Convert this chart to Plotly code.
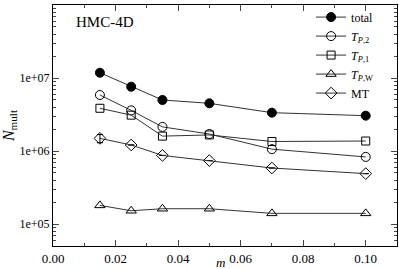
import plotly.graph_objects as go

m = [0.015, 0.025, 0.035, 0.05, 0.07, 0.10]
total = [1.18e7, 7.6e6, 5.0e6, 4.5e6, 3.35e6, 3.05e6]
tp2 = [5.85e6, 3.6e6, 2.14e6, 1.71e6, 1.06e6, 8.3e5]
tp1 = [3.85e6, 3.1e6, 1.6e6, 1.66e6, 1.35e6, 1.37e6]
tpw = [1.8e5, 1.52e5, 1.62e5, 1.62e5, 1.4e5, 1.4e5]
mt = [1.49e6, 1.21e6, 8.7e5, 7.4e5, 5.85e5, 4.9e5]
mt_err = [1.9e5, 0, 0, 0, 0, 0]

ytickvals = [1e5, 1e6, 1e7, 1e8]
yticktext = ["1e+05", "1e+06", "1e+07", "1e+08"]
xtickvals = [0.0, 0.02, 0.04, 0.06, 0.08, 0.10]
xticktext = ["0.00", "0.02", "0.04", "0.06", "0.08", "0.10"]

font = "Liberation Serif"
lc = "#333333"
XR = [0, 0.11]
YR = [4.699, 8]

fig = go.Figure()
series = [
    ("total", total, "circle", 9, None),
    ("<i>T</i><sub><i>P</i>,2</sub>", tp2, "circle-open", 9, None),
    ("<i>T</i><sub><i>P</i>,1</sub>", tp1, "square-open", 8, None),
    ("<i>T</i><sub><i>P</i>,W</sub>", tpw, "triangle-up-open", 9, None),
    ("MT", mt, "diamond-open", 9, mt_err),
]
for name, ys, sym, sz, err in series:
    fig.add_trace(go.Scatter(
        x=m, y=ys, name=name, mode="lines+markers",
        line=dict(color=lc, width=1),
        marker=dict(symbol=sym, size=sz, color="black",
                    line=dict(color="black", width=1)),
        error_y=dict(type="data", array=err, color="black", thickness=1, width=3,
                     visible=err is not None),
    ))

# invisible trace on minor-tick axes so they render
fig.add_trace(go.Scatter(x=[None], y=[None], xaxis="x2", yaxis="y2",
                         showlegend=False, hoverinfo="skip"))

fig.add_annotation(x=0.06, y=0.97, xref="paper", yref="paper", text="HMC-4D",
                   showarrow=False, xanchor="left", yanchor="top",
                   font=dict(family=font, size=15, color="black"))
fig.add_annotation(x=0.487, y=0, xref="paper", yref="paper", text="<i>m</i>",
                   showarrow=False, xanchor="center", yanchor="top", yshift=-7,
                   font=dict(family=font, size=13, color="black"))

fig.update_layout(
    width=399, height=269,
    margin=dict(l=53, r=2, t=5, b=23),
    paper_bgcolor="white", plot_bgcolor="white",
    font=dict(family=font, size=12, color="black"),
    showlegend=True,
    legend=dict(x=0.945, y=1.01, xanchor="right", yanchor="top",
                bgcolor="rgba(0,0,0,0)", font=dict(family=font, size=12),
                tracegroupgap=0, itemwidth=30),
    xaxis=dict(range=XR, tickvals=xtickvals, ticktext=xticktext, automargin=False,
               ticks="inside", ticklen=6, mirror="allticks", showline=True,
               linecolor="black", linewidth=1, showgrid=False, zeroline=False,
               tickfont=dict(size=13)),
    yaxis=dict(type="log", range=YR, tickvals=ytickvals, ticktext=yticktext,
               automargin=False,
               ticks="inside", ticklen=6, mirror="allticks", showline=True,
               linecolor="black", linewidth=1, showgrid=False, zeroline=False,
               tickfont=dict(size=12),
               title=dict(text="<i>N</i><sub>mult</sub>", font=dict(family=font, size=16), standoff=6)),
    xaxis2=dict(range=XR, overlaying="x", anchor="y2", tickmode="linear", tick0=0, dtick=0.01,
                ticks="inside", ticklen=3, mirror="allticks", showticklabels=False,
                showgrid=False, zeroline=False, showline=False, automargin=False),
    yaxis2=dict(type="log", range=YR, overlaying="y", anchor="x2", dtick="D1",
                ticks="inside", ticklen=3, mirror="allticks", showticklabels=False,
                showgrid=False, zeroline=False, showline=False, automargin=False),
)

fig.write_html("out.html", config={"displayModeBar": False},
               post_script="document.body.style.margin='0';document.body.style.padding='0';")
